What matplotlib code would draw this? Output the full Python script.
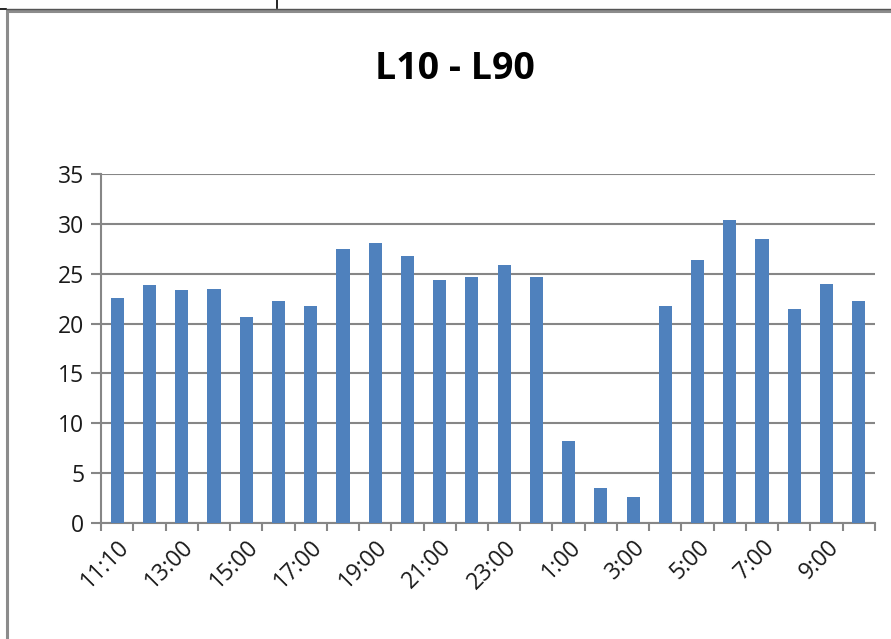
import matplotlib
matplotlib.use('Agg')
import matplotlib.pyplot as plt
from matplotlib.patches import Rectangle
from matplotlib.lines import Line2D

# hourly L10 - L90 values
hours = ['11:10', '12:00', '13:00', '14:00', '15:00', '16:00', '17:00', '18:00',
         '19:00', '20:00', '21:00', '22:00', '23:00', '0:00', '1:00', '2:00',
         '3:00', '4:00', '5:00', '6:00', '7:00', '8:00', '9:00', '10:00']
values = [22.6, 23.9, 23.4, 23.5, 20.7, 22.3, 21.8, 27.5, 28.1, 26.8, 24.4, 24.7,
          25.9, 24.7, 8.2, 3.5, 2.6, 21.8, 26.4, 30.4, 28.5, 21.5, 24.0, 22.3]
yticks = [0, 5, 10, 15, 20, 25, 30, 35]

plt.rcParams['font.family'] = ['Open Sans', 'DejaVu Sans']
grey = '#868686'

fig = plt.figure(figsize=(8.91, 6.39), dpi=100)
ax = fig.add_axes([0.1134, 0.1815, 0.982 - 0.1134, 0.7277 - 0.1815])

x = list(range(len(values)))
ax.bar(x, values, width=0.41, color='#4F81BD', zorder=3)

ax.set_xlim(-0.5, len(values) - 0.5)
ax.set_ylim(0, 35)
ax.set_yticks(yticks)
ax.yaxis.grid(True, color=grey, linewidth=1.5, zorder=0)

# tick marks between categories, labels on every second category
ax.set_xticks([i - 0.5 for i in range(len(values) + 1)])
ax.set_xticklabels([])
ax.set_xticks(x[::2], minor=True)
ax.set_xticklabels(hours[::2], minor=True, rotation=45, ha='right',
                   rotation_mode='anchor', fontsize=16.5, color='#1a1a1a')
ax.tick_params(axis='x', which='major', length=6, width=1.5, color=grey, direction='out')
ax.tick_params(axis='x', which='minor', length=0, pad=9)
ax.tick_params(axis='y', length=7, width=1.5, color=grey, labelsize=16.5,
               labelcolor='#1a1a1a', pad=5)

for side in ['top', 'right']:
    ax.spines[side].set_visible(False)
for side in ['left', 'bottom']:
    ax.spines[side].set_color(grey)
    ax.spines[side].set_linewidth(1.5)

fig.text(0.511, 0.892, 'L10 - L90', ha='center', va='center',
         fontsize=27, fontweight='bold')

# chart frame and the spreadsheet lines above it
W, H = 891, 639
fig.add_artist(Rectangle((7 / W, -0.1), 1.2, 1 - 10.5 / H + 0.1, transform=fig.transFigure,
                         fill=False, edgecolor='#8c8c8c', linewidth=2.2))
fig.add_artist(Line2D([7 / W, 1], [1 - 8.5 / H] * 2, color='#555555', linewidth=1))
fig.add_artist(Line2D([0, 6 / W], [1 - 9 / H] * 2, color='black', linewidth=1.2))
fig.add_artist(Line2D([277 / W] * 2, [1 - 8 / H, 1], color='black', linewidth=1.2))

fig.savefig('out.png', dpi=100)
